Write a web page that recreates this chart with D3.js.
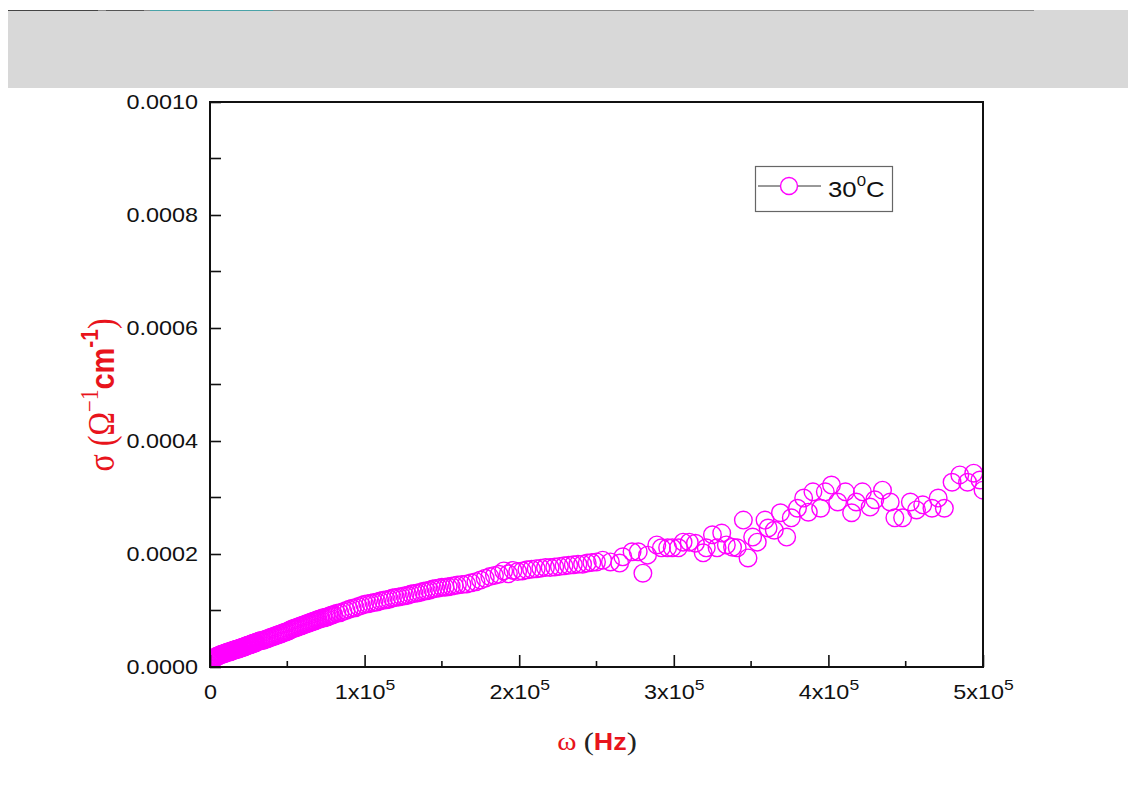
<!DOCTYPE html>
<html>
<head>
<meta charset="utf-8">
<script src="https://cdn.jsdelivr.net/npm/d3@7"></script>
<style>
  body { margin: 0; background: #fff; }
  svg { display: block; }
  .axis text { font-family: Arial, "Liberation Sans", sans-serif; fill: #111; }
</style>
</head>
<body>
<div id="container"></div>
<script>
// frequency in kHz, conductivity in 1e-6 (ohm cm)^-1
const freq = [
  0, 0.5, 1, 1.5, 2, 2.5, 3, 3.5, 4, 4.5, 5, 5.5, 6, 6.5, 7, 7.5, 8, 8.5, 9, 9.5,
  10, 10.5, 11, 11.5, 12, 12.5, 13, 13.5, 14, 14.5, 15, 15.5, 16, 16.5, 17, 17.5, 18, 18.5, 19, 19.5,
  20, 20.5, 21, 21.5, 22, 22.5, 23, 23.5, 24, 24.5, 25, 25.5, 26, 26.5, 27, 27.5, 28, 28.5, 29, 29.5,
  30, 31, 32, 33, 34, 35, 36, 37, 38, 39, 40, 41, 42, 43, 44, 45, 46, 47, 48, 49,
  50, 51, 52, 53, 54, 55, 56, 57, 58, 59, 60, 61, 62, 63, 64, 65, 66, 67, 68, 69,
  70, 71, 72, 73, 74, 75, 76, 77, 78, 79, 80,
  82, 84, 86, 88, 90, 92, 94, 96, 98, 100, 102, 104, 106, 108, 110, 112, 114, 116, 118, 120,
  122, 124, 126, 128, 130, 132, 134, 136, 138, 140, 142, 144, 146, 148, 150, 152, 154, 156, 158, 160,
  163, 166, 169, 172, 175, 178, 181, 184, 187, 190, 193, 196, 199, 202, 205, 208, 211, 214, 217, 220,
  223, 226, 229, 232, 235, 238, 241, 244, 247, 250,
  254, 259, 265, 267, 273, 277, 280, 283, 289, 292, 296, 299, 303, 306, 310, 314, 319, 321, 325, 328,
  331, 334, 338, 341, 345, 348, 351, 354, 359, 361, 365, 369, 373, 376, 380, 384, 387, 390, 395, 398,
  402, 406, 411, 415, 418, 422, 427, 430, 435, 440, 443, 448, 453, 457, 461, 467, 471, 475, 480, 485,
  490, 494, 498, 500
];
const sigma = [
  8, 10, 12, 13, 14, 15, 16, 17, 18, 19, 19, 20, 21, 21, 22, 22, 23, 23, 24, 24,
  25, 25, 26, 26, 27, 27, 27, 28, 28, 29, 29, 30, 30, 31, 31, 32, 32, 32, 33, 33,
  34, 34, 35, 35, 36, 36, 37, 37, 38, 38, 39, 39, 40, 40, 41, 41, 42, 42, 43, 43,
  44, 45, 46, 47, 47, 48, 49, 50, 51, 52, 53, 54, 55, 56, 57, 58, 59, 60, 61, 62,
  63, 64, 66, 67, 68, 69, 70, 71, 72, 73, 74, 75, 76, 77, 78, 79, 80, 81, 82, 83,
  84, 85, 86, 87, 87, 88, 89, 90, 91, 92, 93,
  95, 96, 98, 100, 102, 104, 105, 107, 109, 111, 112, 113, 114, 115, 117, 118, 119, 120, 122, 123,
  124, 125, 126, 127, 129, 130, 131, 132, 134, 135, 136, 138, 139, 140, 141, 141, 142, 143, 144, 145,
  146, 147, 149, 151, 154, 157, 160, 162, 164, 170, 165, 171, 169, 170, 172, 173, 174, 175, 176, 176,
  177, 178, 179, 180, 181, 182, 182, 184, 185, 186,
  189, 186, 184, 195, 204, 204, 166, 198, 216, 211, 211, 211, 211, 221, 221, 219, 202, 211, 234, 211,
  237, 216, 212, 211, 260, 193, 230, 221, 260, 246, 242, 273, 230, 264, 281, 299, 274, 310, 281, 310,
  322, 292, 310, 273, 292, 310, 283, 296, 313, 292, 264, 264, 292, 278, 287, 281, 299, 281, 327, 340,
  327, 343, 331, 313
];

const xMajorTicks = [0, 100, 200, 300, 400, 500];
const xMinorTicks = [50, 150, 250, 350, 450];
const yMajorTicks = [0, 200, 400, 600, 800, 1000];
const yMinorTicks = [100, 300, 500, 700, 900];
const yTickLabels = ['0.0000', '0.0002', '0.0004', '0.0006', '0.0008', '0.0010'];
const xTickMantissa = ['0', '1x10', '2x10', '3x10', '4x10', '5x10'];
const legendLabel = '30';

//_____ LAYOUT _____
const W = 1128, H = 791;
const plot = { left: 210, top: 102, right: 983, bottom: 667 };
const red = '#e8141c';
const magenta = '#ff00ff';
const stretch = 1.17; //--- the picture is a little wider than its text

const svg = d3.select('#container').append('svg')
  .attr('width', W).attr('height', H);

//>>> grey banner at the top
svg.append('rect')
  .attr('x', 8).attr('y', 10).attr('width', W - 8).attr('height', 78)
  .attr('fill', '#d8d8d8');
svg.append('line')
  .attr('x1', 8).attr('x2', 1034).attr('y1', 10.5).attr('y2', 10.5)
  .attr('stroke', '#8a8a8a').attr('stroke-width', 1);
svg.append('line')
  .attr('x1', 150).attr('x2', 273).attr('y1', 10.5).attr('y2', 10.5)
  .attr('stroke', '#4aa3a8').attr('stroke-width', 1.2);
svg.append('line')
  .attr('x1', 8).attr('x2', 98).attr('y1', 10.5).attr('y2', 10.5)
  .attr('stroke', '#444').attr('stroke-width', 1.2);
svg.append('line')
  .attr('x1', 106).attr('x2', 144).attr('y1', 10.5).attr('y2', 10.5)
  .attr('stroke', '#555').attr('stroke-width', 1.2);

//_____ SCALES _____
const xScale = d3.scaleLinear().domain([0, 500]).range([plot.left, plot.right]);
const yScale = d3.scaleLinear().domain([0, 1000]).range([plot.bottom, plot.top]);

//_____ POINTS _____
svg.append('clipPath').attr('id', 'clip')
  .append('rect')
  .attr('x', plot.left).attr('y', plot.top)
  .attr('width', plot.right - plot.left).attr('height', plot.bottom - plot.top);

svg.append('g')
  .attr('clip-path', 'url(#clip)')
  .selectAll('circle')
  .data(freq.map((f, i) => ({ f, s: sigma[i] })))
  .enter().append('circle')
  .attr('cx', d => xScale(d.f))
  .attr('cy', d => yScale(d.s))
  .attr('r', 8.8)
  .attr('fill', 'none')
  .attr('stroke', magenta)
  .attr('stroke-width', 1.4);

//_____ AXES _____
const axisFont = '20px';

//>>> x axis, ticks pointing inwards
const xAxis = svg.append('g').attr('class', 'axis')
  .attr('transform', `translate(0,${plot.bottom})`)
  .call(d3.axisBottom(xScale).tickValues(xMajorTicks).tickSize(-12).tickFormat((d, i) => xTickMantissa[i]));
xAxis.select('.domain').remove();
xAxis.selectAll('.tick line').attr('stroke', '#111').attr('stroke-width', 1.6);
xAxis.selectAll('.tick text')
  .attr('y', 32).attr('dy', 0)
  .attr('transform', `scale(${stretch},1)`)
  .style('font-size', axisFont)
  .each(function (d, i) {
    if (i === 0) return;
    d3.select(this).append('tspan')
      .attr('dy', -9).style('font-size', '15px').text('5');
  });

svg.append('g')
  .selectAll('line')
  .data(xMinorTicks)
  .enter().append('line')
  .attr('x1', d => xScale(d)).attr('x2', d => xScale(d))
  .attr('y1', plot.bottom).attr('y2', plot.bottom - 6)
  .attr('stroke', '#111').attr('stroke-width', 1.6);

//>>> y axis
const yAxis = svg.append('g').attr('class', 'axis')
  .attr('transform', `translate(${plot.left},0)`)
  .call(d3.axisLeft(yScale).tickValues(yMajorTicks).tickSize(-11)
    .tickFormat((d, i) => yTickLabels[i]));
yAxis.select('.domain').remove();
yAxis.selectAll('.tick line').attr('stroke', '#111').attr('stroke-width', 1.6);
yAxis.selectAll('.tick text')
  .style('font-size', axisFont)
  .attr('dy', '0.3em')
  .attr('x', -12 / stretch)
  .attr('transform', `scale(${stretch},1)`);

svg.append('g')
  .selectAll('line')
  .data(yMinorTicks)
  .enter().append('line')
  .attr('y1', d => yScale(d)).attr('y2', d => yScale(d))
  .attr('x1', plot.left).attr('x2', plot.left + 11)
  .attr('stroke', '#111').attr('stroke-width', 1.6);

//>>> frame
svg.append('rect')
  .attr('x', plot.left).attr('y', plot.top)
  .attr('width', plot.right - plot.left).attr('height', plot.bottom - plot.top)
  .attr('fill', 'none').attr('stroke', '#111').attr('stroke-width', 2);

//_____ AXIS TITLES _____
const serif = '"Liberation Serif", "DejaVu Serif", serif';
const sans = 'Arial, "Liberation Sans", sans-serif';

const xTitle = svg.append('text')
  .attr('transform', `translate(597,750) scale(${stretch},1)`)
  .attr('text-anchor', 'middle');
xTitle.append('tspan').attr('fill', red).style('font-family', serif).style('font-size', '25px').text('ω ');
xTitle.append('tspan').attr('fill', '#222').style('font-family', serif).style('font-size', '26px').text('(');
xTitle.append('tspan').attr('fill', red).style('font-family', sans).style('font-weight', 'bold').style('font-size', '23px').text('Hz');
xTitle.append('tspan').attr('fill', '#222').style('font-family', serif).style('font-size', '26px').text(')');

const yTitle = svg.append('text')
  .attr('transform', `translate(114,395) scale(${stretch},1) rotate(-90)`)
  .attr('text-anchor', 'middle')
  .attr('fill', red);
yTitle.append('tspan').style('font-family', serif).style('font-size', '32px').text('σ (Ω');
yTitle.append('tspan').style('font-family', serif).style('font-size', '21px').attr('dy', -14).text('−1');
yTitle.append('tspan').style('font-family', sans).style('font-weight', 'bold').style('font-size', '29px').attr('dy', 14).text('cm');
yTitle.append('tspan').style('font-family', sans).style('font-weight', 'bold').style('font-size', '21px').attr('dy', -14).text('-1');
yTitle.append('tspan').style('font-family', serif).style('font-size', '32px').attr('dy', 14).text(')');

//_____ LEGEND _____
const legend = svg.append('g').attr('id', 'legend');
legend.append('rect')
  .attr('x', 755.5).attr('y', 166.5).attr('width', 137).attr('height', 45)
  .attr('fill', '#fff').attr('stroke', '#666').attr('stroke-width', 1.2);
legend.append('line')
  .attr('x1', 758).attr('x2', 821).attr('y1', 186).attr('y2', 186)
  .attr('stroke', '#333').attr('stroke-width', 1);
legend.append('circle')
  .attr('cx', 789).attr('cy', 186).attr('r', 8.5)
  .attr('fill', '#fff').attr('stroke', magenta).attr('stroke-width', 1.4);
const legendText = legend.append('text')
  .attr('transform', `translate(828,197) scale(1.12,1)`)
  .style('font-family', sans).style('font-size', '23px').attr('fill', '#111');
legendText.append('tspan').text(legendLabel);
legendText.append('tspan').attr('dy', -11).style('font-size', '15px').text('0');
legendText.append('tspan').attr('dy', 11).text('C');
</script>
</body>
</html>
